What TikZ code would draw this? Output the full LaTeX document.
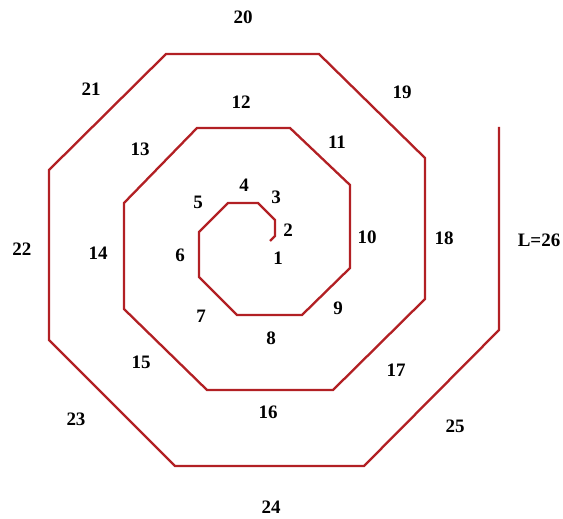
\documentclass[tikz,border=0pt]{standalone}
\usepackage{fontspec}
\setmainfont{Liberation Serif}
\begin{document}
\begin{tikzpicture}[x=1pt,y=-1pt,
  spiral/.style={draw={rgb,255:red,178;green,32;blue,36},line width=2.3pt,line join=miter},
  lab/.style={font=\fontsize{19}{21}\selectfont\bfseries,inner sep=0pt}]
\useasboundingbox (0,0) rectangle (563,519);
\coordinate (s) at (270,241);
\draw[spiral] (s) -- (275,236) -- (275,220) -- (258,203) -- (228,203) -- (199,232) -- (199,277)
  -- (237,315) -- (302,315) -- (350,268) -- (350,185) -- (290,128) -- (197,128) -- (124,203)
  -- (124,309) -- (207,390) -- (333,390) -- (425,299) -- (425,158) -- (319,54) -- (166,54)
  -- (49,170) -- (49,340) -- (175,466) -- (364,466) -- (499,330) -- (499,127) coordinate (e);
\node[lab] (l1) at (278,258) {1};
\node[lab] (l2) at (288,230) {2};
\node[lab] (l3) at (276,197) {3};
\node[lab] (l4) at (244,185) {4};
\node[lab] (l5) at (198,202) {5};
\node[lab] (l6) at (180,255) {6};
\node[lab] (l7) at (201,316) {7};
\node[lab] (l8) at (271,338) {8};
\node[lab] (l9) at (338,308) {9};
\node[lab] (l10) at (367,237) {10};
\node[lab] (l11) at (337,142) {11};
\node[lab] (l12) at (241,102) {12};
\node[lab] (l13) at (140,149) {13};
\node[lab] (l14) at (98,253) {14};
\node[lab] (l15) at (141,362) {15};
\node[lab] (l16) at (268,412) {16};
\node[lab] (l17) at (396,370) {17};
\node[lab] (l18) at (444,238) {18};
\node[lab] (l19) at (402,92) {19};
\node[lab] (l20) at (243,17) {20};
\node[lab] (l21) at (91,89) {21};
\node[lab] (l22) at (22,249) {22};
\node[lab] (l23) at (76,419) {23};
\node[lab] (l24) at (271,507) {24};
\node[lab] (l25) at (455,426) {25};
\node[lab] (l26) at (539,240) {L=26};
\end{tikzpicture}
\end{document}
